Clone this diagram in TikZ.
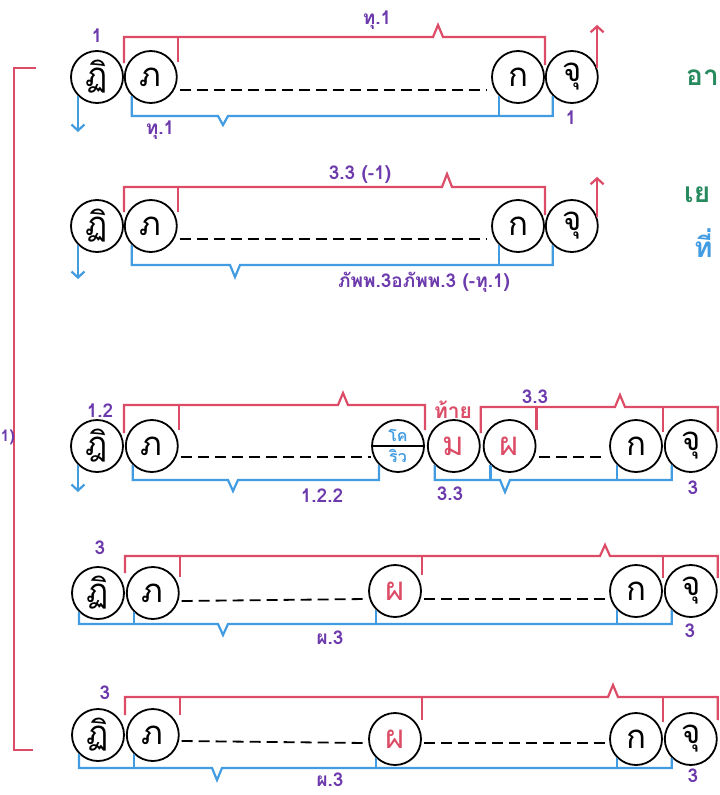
\documentclass[tikz,border=0pt]{standalone}
\usepackage{fontspec}
\newfontfamily\thaifont[Script=Thai]{Loma}
\usetikzlibrary{
    arrows.meta,        % punte di freccia
    calc,               % calcoli con coordinate
    positioning         % posizionamento dei nodi
}

\definecolor{rosso}{RGB}{220,76,102}
\definecolor{azzurro}{RGB}{66,156,226}
\definecolor{viola}{RGB}{108,58,172}
\definecolor{verde}{RGB}{38,138,94}

\tikzset{
    lett/.style={circle, draw, line width=1.8pt, minimum size=52pt, inner sep=0pt,
        font=\thaifont\fontsize{33}{35}\selectfont},
    rossa/.style={draw=rosso, line width=2.2pt},
    blu/.style={draw=azzurro, line width=2.2pt},
    tratt/.style={line width=1.8pt, dash pattern=on 11pt off 6pt},
    num/.style={text=viola, inner sep=1pt, font=\thaifont\bfseries\fontsize{19}{21}\selectfont},
    giu/.style={azzurro, line width=2.2pt, -{Straight Barb[length=6pt,width=13pt]}},
    su/.style={rosso, line width=2.2pt, -{Straight Barb[length=6pt,width=13pt]}},
    nota/.style={inner sep=0pt, anchor=west, font=\thaifont\bfseries\fontsize{28}{30}\selectfont}
}

\begin{document}
\begin{tikzpicture}[x=1pt, y=-1pt]

        \useasboundingbox[fill=white] (0,0) rectangle (720,795);

        % parentesi rossa a sinistra
        \draw[rossa] (36,68) -- (14,68) -- (14,750) -- (33,750);
        \node[num, anchor=west, inner sep=0pt, font=\thaifont\bfseries\fontsize{16}{18}\selectfont]
            (uno) at (0.5,437) {1)};

        % riga 1
        \node[lett] (t1) at (97,77) {ฏิ};
        \node[lett, right=0pt of t1] (p1) {ภ};
        \node[lett] (k1) at (518,77) {ก};
        \node[lett, right=0pt of k1] (c1) {จุ};
        \draw[tratt] ($(p1.east)+(2,13)$) -- ($(k1.west)+(-4,13)$);
        \draw[rossa] (t1.east |- 0,63) -- (t1.east |- 0,37) -- (433,37) -- (438,25) -- (443,37)
            -- (k1.east |- 0,37) -- (k1.east |- 0,65);
        \draw[rossa] (p1.east |- 0,37) -- (p1.east |- 0,62);
        \draw[blu] (p1.south west) -- (p1.south west |- 0,116) -- (218,116) -- (223,125) -- (228,116)
            -- (c1.south west |- 0,116) -- (c1.south west);
        \draw[blu] (k1.south west) -- (k1.south west |- 0,116);
        \draw[giu] (t1.south west) -- ++(0,36);
        \draw[su] (c1.20) -- ++(0,-43);
        \node[num] (n1a) at (97,36) {1};
        \node[num] (n1b) at (571,118) {1};
        \node[num] (l1a) at (377,20) {ทุ.1};
        \node[num] (l1b) at (160,130) {ทุ.1};
        \node[nota, text=verde] (g1) at (686,78) {อา};

        % riga 2
        \node[lett] (t2) at (97,226) {ฏิ};
        \node[lett, right=0pt of t2] (p2) {ภ};
        \node[lett] (k2) at (518,226) {ก};
        \node[lett, right=0pt of k2] (c2) {จุ};
        \draw[tratt] ($(p2.east)+(2,13)$) -- ($(k2.west)+(-4,13)$);
        \draw[rossa] (t2.east |- 0,212) -- (t2.east |- 0,187) -- (442,187) -- (447,174) -- (452,187)
            -- (k2.east |- 0,187) -- (k2.east |- 0,215);
        \draw[rossa] (p2.east |- 0,187) -- (p2.east |- 0,212);
        \draw[blu] (p2.south west) -- (p2.south west |- 0,265) -- (230,265) -- (235,277) -- (240,265)
            -- (c2.south west |- 0,265) -- (c2.south west);
        \draw[blu] (k2.south west) -- (k2.south west |- 0,265);
        \draw[giu] (t2.south west) -- ++(0,34);
        \draw[su] (c2.20) -- ++(0,-40);
        \node[num] (l2a) at (360,175) {3.3 (-1)};
        \node[num] (l2b) at (424,282) {ภัพพ.3อภัพพ.3 (-ทุ.1)};
        \node[nota, text=verde] (g2) at (684,195) {เย};
        \node[nota, text=azzurro] (g3) at (694,243) {ที่};

        % riga 3
        \node[lett] (t3) at (97,446) {ฎิ};
        \node[lett, right=1pt of t3] (p3) {ภ};
        \node[lett, align=center, text=azzurro, font=\thaifont\bfseries\fontsize{16}{16}\selectfont]
            (v3) at (398,446) {โค\\[5pt]ริว};
        \draw[line width=1.8pt] (v3.west) -- (v3.east);
        \node[lett, text=rosso, right=2pt of v3] (m3) {ม};
        \node[lett, text=rosso, right=2pt of m3] (f3) {ผ};
        \node[lett] (k3) at (636,446) {ก};
        \node[lett, right=1pt of k3] (c3) {จุ};
        \draw[tratt] ($(p3.east)+(2,11)$) -- ($(v3.west)+(0,11)$);
        \draw[tratt] ($(f3.east)+(2,11)$) -- ($(k3.west)+(-3,11)$);
        \draw[rossa] (t3.east |- 0,433) -- (t3.east |- 0,405) -- (338,405) -- (343,393) -- (348,405)
            -- (v3.east |- 0,405) -- (v3.east |- 0,430);
        \draw[rossa] (p3.east |- 0,405) -- (p3.east |- 0,430);
        \draw[rossa] (m3.east |- 0,433) -- (m3.east |- 0,407) -- (615,407) -- (620,395) -- (625,407)
            -- (c3.east |- 0,407) -- (c3.east |- 0,432);
        \draw[rossa] (f3.east |- 0,407) -- (f3.east |- 0,430);
        \draw[rossa] (k3.east |- 0,407) -- (k3.east |- 0,432);
        \draw[blu] (p3.south west) -- (p3.south west |- 0,480) -- (228,480) -- (233,491) -- (238,480)
            -- (v3.south west |- 0,480) -- (v3.south west);
        \draw[blu] (m3.south west) -- (m3.south west |- 0,480) -- (500,480) -- (505,492) -- (510,480)
            -- (c3.south west |- 0,480) -- (c3.south west);
        \draw[blu] (f3.south west) -- (f3.south west |- 0,480);
        \draw[blu] (k3.south west) -- (k3.south west |- 0,480);
        \draw[giu] (t3.south west) -- ++(0,27);
        \node[num] (n3a) at (100,411) {1.2};
        \node[num] (l3a) at (322,496) {1.2.2};
        \node[num, text=rosso, font=\thaifont\bfseries\fontsize{21}{23}\selectfont] (l3b) at (453,410) {ท้าย};
        \node[num] (l3c) at (535,397) {3.3};
        \node[num] (l3d) at (450,494) {3.3};
        \node[num] (n3b) at (693,488) {3};

        % riga 4
        \node[lett] (t4) at (98,593) {ฏิ};
        \node[lett, right=1pt of t4] (p4) {ภ};
        \node[lett, text=rosso] (f4) at (395,591) {ผ};
        \node[lett] (k4) at (636,591) {ก};
        \node[lett, right=1pt of k4] (c4) {จุ};
        \draw[tratt] ($(p4.east)+(2,8)$) -- ($(f4.west)+(-2,8)$);
        \draw[tratt] ($(f4.east)+(2,8)$) -- ($(k4.west)+(-2,8)$);
        \draw[rossa] (t4.east |- 0,573) -- (t4.east |- 0,556) -- (600,556) -- (605,545) -- (610,556)
            -- (c4.east |- 0,556) -- (c4.east |- 0,578);
        \draw[rossa] (p4.east |- 0,556) -- (p4.east |- 0,577);
        \draw[rossa] (f4.east |- 0,556) -- (f4.east |- 0,575);
        \draw[rossa] (k4.east |- 0,556) -- (k4.east |- 0,578);
        \draw[blu] (t4.south west) -- (t4.south west |- 0,624) -- (218,624) -- (223,635) -- (228,624)
            -- (c4.south west |- 0,624) -- (c4.south west);
        \draw[blu] (p4.south west) -- (p4.south west |- 0,624);
        \draw[blu] (f4.south west) -- (f4.south west |- 0,624);
        \draw[blu] (k4.south west) -- (k4.south west |- 0,624);
        \node[num] (n4a) at (100,548) {3};
        \node[num] (l4a) at (330,638) {ผ.3};
        \node[num] (n4b) at (690,631) {3};

        % riga 5
        \node[lett] (t5) at (98,735) {ฏิ};
        \node[lett, right=1pt of t5] (p5) {ภ};
        \node[lett, text=rosso] (f5) at (395,739) {ผ};
        \node[lett] (k5) at (636,739) {ก};
        \node[lett, right=1pt of k5] (c5) {จุ};
        \draw[tratt] ($(p5.east)+(2,6)$) -- ($(f5.west)+(-2,4)$);
        \draw[tratt] ($(f5.east)+(2,4)$) -- ($(k5.west)+(-2,4)$);
        \draw[rossa] (t5.east |- 0,715) -- (t5.east |- 0,697) -- (608,697) -- (613,685) -- (618,697)
            -- (c5.east |- 0,697) -- (c5.east |- 0,720);
        \draw[rossa] (p5.east |- 0,697) -- (p5.east |- 0,715);
        \draw[rossa] (f5.east |- 0,697) -- (f5.east |- 0,720);
        \draw[rossa] (k5.east |- 0,697) -- (k5.east |- 0,722);
        \draw[blu] (t5.south west) -- (t5.south west |- 0,768) -- (212,768) -- (217,780) -- (222,768)
            -- (c5.south west |- 0,768) -- (c5.south west);
        \draw[blu] (p5.south west) -- (p5.south west |- 0,768);
        \draw[blu] (f5.south west) -- (f5.south west |- 0,768);
        \draw[blu] (k5.south west) -- (k5.south west |- 0,768);
        \node[num] (n5a) at (105,693) {3};
        \node[num] (l5a) at (330,780) {ผ.3};
        \node[num] (n5b) at (693,776) {3};

    \end{tikzpicture}
\end{document}
